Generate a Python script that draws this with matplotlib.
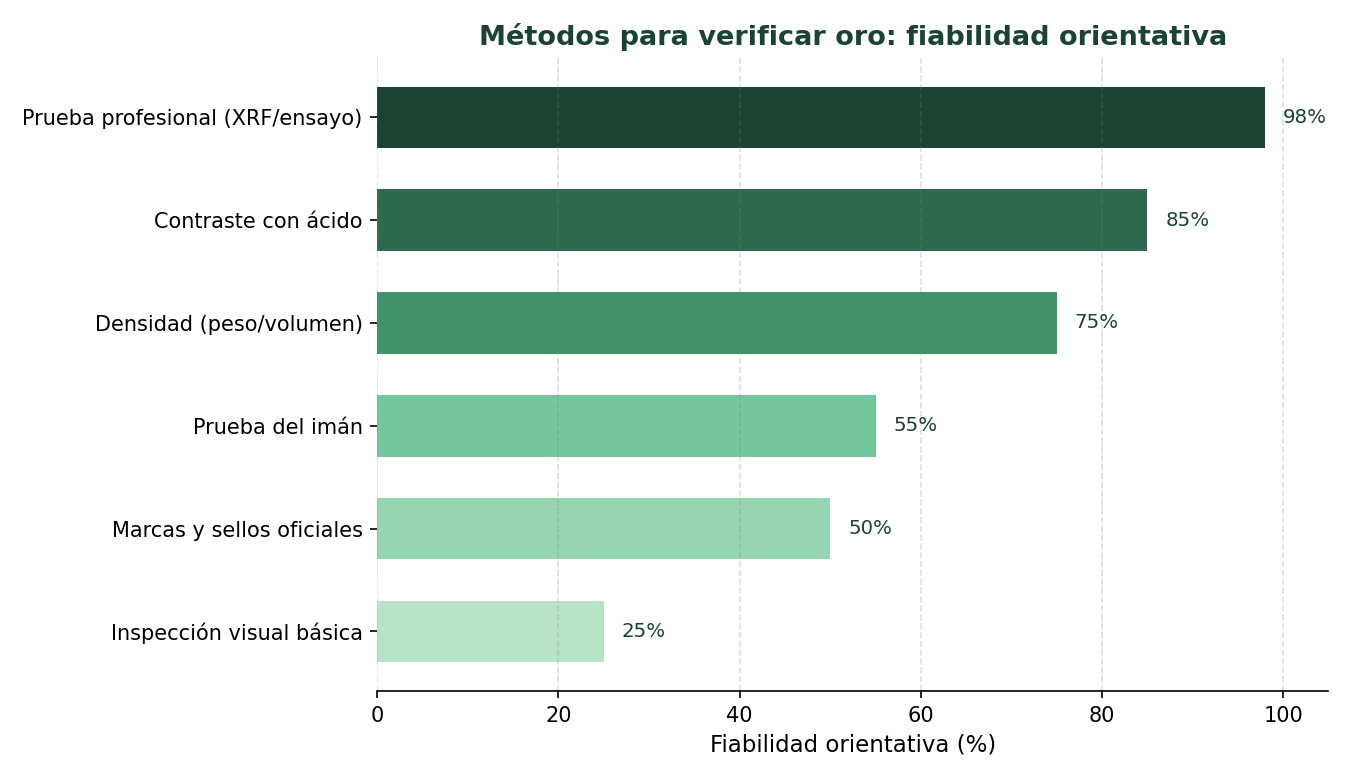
import matplotlib
matplotlib.use('Agg')
import matplotlib.pyplot as plt

# Data (bottom to top order as drawn)
Methods = ['Inspección visual básica', 'Marcas y sellos oficiales', 'Prueba del imán',
           'Densidad (peso/volumen)', 'Contraste con ácido', 'Prueba profesional (XRF/ensayo)']
Reliability = [25, 50, 55, 75, 85, 98]
Colors = ['#b7e4c7', '#95d5b2', '#74c69d', '#40916c', '#2d6a4f', '#1b4332']

fig, ax = plt.subplots(figsize=(9, 5.2), dpi=150)
ax.barh(Methods, Reliability, color=Colors, height=0.6)

for i, v in enumerate(Reliability):
    ax.text(v + 2, i, f'{v}%', va='center', ha='left', fontsize=9.5, color='#1b4332')

ax.set_xlim(0, 105)
ax.set_xlabel('Fiabilidad orientativa (%)', fontsize=11)
ax.set_title('Métodos para verificar oro: fiabilidad orientativa', fontsize=13,
             fontweight='bold', color='#1b4332')
ax.tick_params(axis='both', labelsize=10)
ax.grid(axis='x', linestyle='--', color='gray', alpha=0.25)
for s in ['top', 'right', 'left']:
    ax.spines[s].set_visible(False)

plt.subplots_adjust(left=0.2795, right=0.984, top=0.926, bottom=0.114)
plt.savefig('out.png')
